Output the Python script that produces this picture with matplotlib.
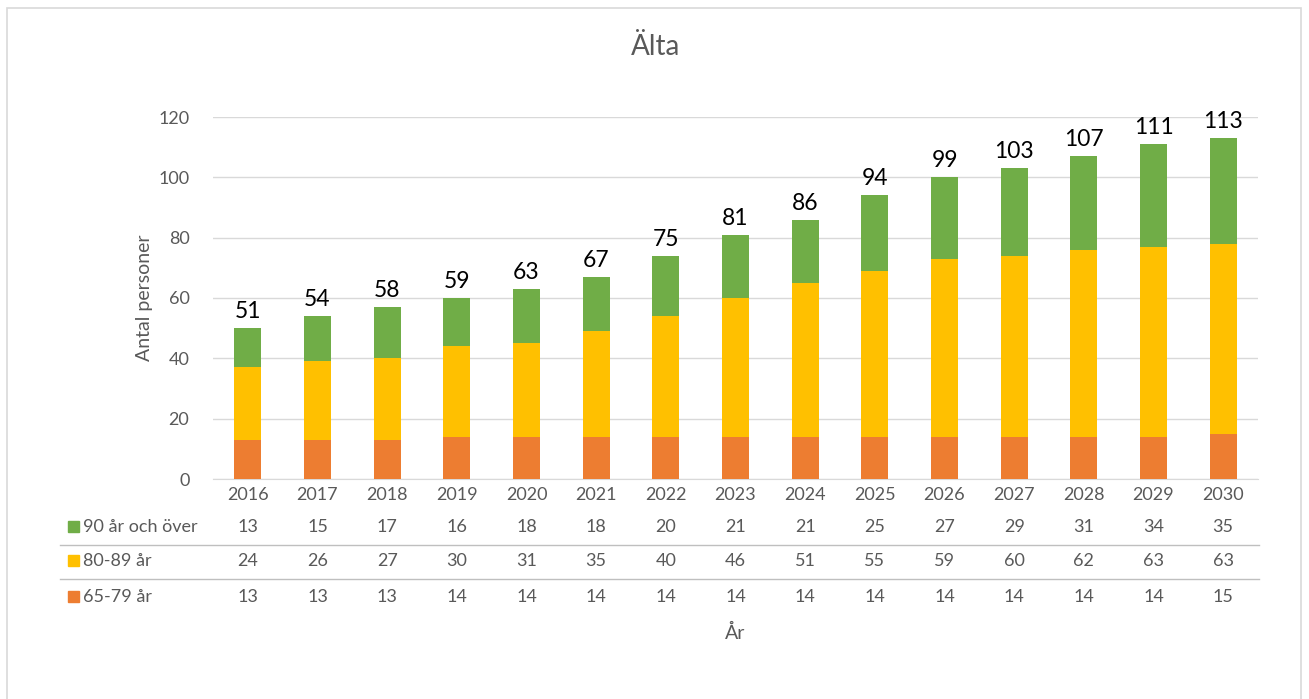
import matplotlib.pyplot as plt
from matplotlib.patches import Rectangle
from matplotlib.transforms import blended_transform_factory
import numpy as np

plt.rcParams['font.family'] = ['Lato', 'DejaVu Sans']

years = ['2016', '2017', '2018', '2019', '2020', '2021', '2022', '2023',
         '2024', '2025', '2026', '2027', '2028', '2029', '2030']
age_65_79 = [13, 13, 13, 14, 14, 14, 14, 14, 14, 14, 14, 14, 14, 14, 15]
age_80_89 = [24, 26, 27, 30, 31, 35, 40, 46, 51, 55, 59, 60, 62, 63, 63]
age_90 = [13, 15, 17, 16, 18, 18, 20, 21, 21, 25, 27, 29, 31, 34, 35]
totals = [51, 54, 58, 59, 63, 67, 75, 81, 86, 94, 99, 103, 107, 111, 113]
series_names = ['90 år och över', '80-89 år', '65-79 år']

c_orange = '#ED7D31'
c_yellow = '#FFC000'
c_green = '#70AD47'
gray = '#595959'

W, H = 1309, 699
fig = plt.figure(figsize=(W / 100, H / 100), dpi=100)
ax = fig.add_axes([213 / W, 1 - 479 / H, (1258 - 213) / W, (479 - 117) / H])

x = np.arange(len(years))
w = 0.39
b1 = np.array(age_65_79)
b2 = b1 + np.array(age_80_89)
ax.bar(x, age_65_79, w, color=c_orange, zorder=3)
ax.bar(x, age_80_89, w, bottom=b1, color=c_yellow, zorder=3)
ax.bar(x, age_90, w, bottom=b2, color=c_green, zorder=3)

tops = b2 + np.array(age_90)
for xi, t, lab in zip(x, tops, totals):
    ax.text(xi, t + 2, str(lab), ha='center', va='bottom', fontsize=16.5,
            color='black', clip_on=False)

ax.set_xlim(-0.5, len(years) - 0.5)
ax.set_ylim(0, 120)
ax.set_yticks(range(0, 121, 20))
ax.yaxis.grid(True, color='#D9D9D9', linewidth=1, zorder=0)
ax.set_axisbelow(True)
for s in ['top', 'right', 'left']:
    ax.spines[s].set_visible(False)
ax.spines['bottom'].set_color('#D9D9D9')
ax.tick_params(axis='y', length=0, labelsize=13, labelcolor=gray, pad=17)
ax.set_xticks(x)
ax.set_xticklabels(years)
ax.tick_params(axis='x', length=0, labelsize=13, labelcolor=gray, pad=6)
ax.set_ylabel('Antal personer', fontsize=14, color=gray, labelpad=4)

# data table below the axis
row_y = [527, 561, 597]
rows = [age_90, age_80_89, age_65_79]
colors = [c_green, c_yellow, c_orange]
trans = blended_transform_factory(ax.transData, fig.transFigure)
for ry, vals, name, col in zip(row_y, rows, series_names, colors):
    yf = 1 - ry / H
    fig.patches.append(Rectangle((68 / W, yf - 5 / H), 11 / W, 11 / H,
                                 transform=fig.transFigure, color=col))
    fig.text(83 / W, yf, name, fontsize=13, color=gray, va='center', ha='left')
    for xi, v in zip(x, vals):
        ax.text(xi, yf, str(v), transform=trans, ha='center', va='center',
                fontsize=13, color=gray, clip_on=False)

for ly in [545, 579]:
    fig.add_artist(plt.Line2D([60 / W, 1259 / W], [1 - ly / H, 1 - ly / H],
                              color='#BFBFBF', linewidth=1))

fig.text(735 / W, 1 - 633 / H, 'År', fontsize=14, color=gray,
         ha='center', va='center')
fig.text(655 / W, 1 - 47 / H, 'Älta', fontsize=20, color=gray,
         ha='center', va='center')

fig.patches.append(Rectangle((7 / W, -0.01), (1301 - 7) / W, 1.01 - 8 / H,
                             transform=fig.transFigure, fill=False,
                             edgecolor='#D9D9D9', linewidth=1.2))

fig.savefig('out.png', dpi=100)
